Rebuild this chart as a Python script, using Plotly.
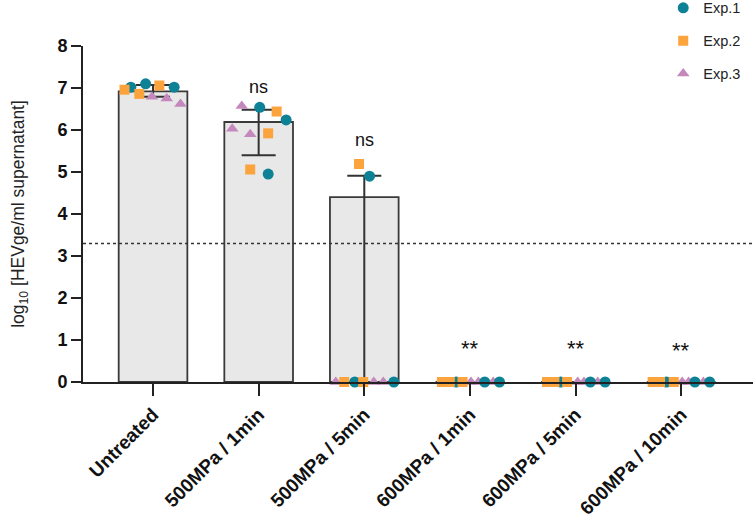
import plotly.graph_objects as go

groups = ["Untreated", "500MPa / 1min", "500MPa / 5min",
          "600MPa / 1min", "600MPa / 5min", "600MPa / 10min"]
means = [6.92, 6.19, 4.40, 0, 0, 0]
err_up = [0.15, 0.29, 0.51, 0, 0, 0]
err_down = [0.13, 0.79, 4.40, 0, 0, 0]
lod = 3.3

# per-experiment replicate values (3 per group)
exp1_vals = [[7.02, 7.10, 7.02], [6.54, 6.24, 4.95], [4.90, 0, 0],
             [0, 0, 0], [0, 0, 0], [0, 0, 0]]
exp2_vals = [[6.96, 6.86, 7.06], [6.44, 5.92, 5.06], [5.19, 0, 0],
             [0, 0, 0], [0, 0, 0], [0, 0, 0]]
exp3_vals = [[6.79, 6.75, 6.62], [6.57, 6.03, 5.90], [0, 0, 0],
             [0, 0, 0], [0, 0, 0], [0, 0, 0]]
# horizontal scatter jitter within each category
exp1_jit = [[-0.21, -0.07, 0.20], [0.01, 0.26, 0.09], [0.05, -0.09, 0.28],
            [-0.13, 0.14, 0.28], [-0.14, 0.14, 0.28], [-0.14, 0.13, 0.27]]
exp2_jit = [[-0.27, -0.13, 0.06], [0.17, 0.09, -0.08], [-0.05, -0.19, -0.01],
            [-0.265, -0.19, -0.07], [-0.27, -0.20, -0.08], [-0.27, -0.20, -0.07]]
exp3_jit = [[-0.01, 0.13, 0.26], [-0.16, -0.25, -0.08], [-0.27, 0.09, 0.18],
            [0.01, 0.08, 0.22], [0.02, 0.08, 0.21], [0.01, 0.07, 0.21]]
sig_labels = ["", "ns", "ns", "**", "**", "**"]
sig_y = [0, 7.03, 5.76, 0.80, 0.80, 0.75]

TEAL = "#0d8296"
ORANGE = "#fba33c"
MAUVE = "#c488bd"
DARK = "#333333"
FONT = "Arial, Liberation Sans, sans-serif"

idx = list(range(len(groups)))

fig = go.Figure()
fig.add_trace(go.Bar(
    x=idx, y=means, width=0.65,
    marker=dict(color="#e8e8e8", line=dict(color="#3a3a3a", width=1.8)),
    error_y=dict(type="data", symmetric=False, array=err_up, arrayminus=err_down,
                 color=DARK, thickness=2, width=17),
    showlegend=False, hoverinfo="skip", cliponaxis=False,
))


def flat(vals, jit):
    xs, ys = [], []
    for i, (vv, jj) in enumerate(zip(vals, jit)):
        for v, j in zip(vv, jj):
            xs.append(i + j)
            ys.append(v)
    return xs, ys


series = [
    ("Exp.3", exp3_vals, exp3_jit, "triangle-up", MAUVE, 3, 11),
    ("Exp.1", exp1_vals, exp1_jit, "circle", TEAL, 1, 11),
    ("Exp.2", exp2_vals, exp2_jit, "square", ORANGE, 2, 10),
]
for name, vals, jit, sym, col, rank, size in series:
    xs, ys = flat(vals, jit)
    fig.add_trace(go.Scatter(
        x=xs, y=ys, mode="markers", name=name, legendrank=rank,
        legendgroup=name,
        marker=dict(symbol=sym, color=col, size=size, line=dict(width=0)),
        cliponaxis=False,
    ))

fig.add_shape(type="line", xref="paper", yref="y", x0=0, x1=1, y0=lod, y1=lod,
              line=dict(color=DARK, width=1.5, dash="dot"))

for i, (lab, yy) in enumerate(zip(sig_labels, sig_y)):
    if lab:
        fig.add_annotation(x=i, y=yy, text=lab, showarrow=False,
                           font=dict(size=22 if lab == "**" else 18,
                                     color="#111", family=FONT))

fig.update_layout(
    width=753, height=521,
    margin=dict(l=83, r=0, t=46, b=139, autoexpand=False),
    plot_bgcolor="white", paper_bgcolor="white",
    font=dict(family=FONT, color="#111"),
    bargap=0.35,
    legend=dict(x=0.866, y=1.161, xanchor="left", yanchor="top",
                font=dict(size=14.5, color="#222", family=FONT),
                tracegroupgap=11, bgcolor="rgba(0,0,0,0)"),
    xaxis=dict(
        range=[-0.663, 5.68], tickmode="array", tickvals=idx, ticktext=groups,
        tickangle=-45, ticks="outside", ticklen=12, tickwidth=2, tickcolor="#222",
        showline=True, linecolor="#222", linewidth=2, showgrid=False,
        zeroline=False, automargin=False,
        tickfont=dict(size=19, family=FONT, color="#111", weight="bold"),
    ),
    yaxis=dict(
        range=[0, 8], dtick=1, ticks="outside", ticklen=10, tickwidth=2,
        tickcolor="#222", showline=True, linecolor="#222", linewidth=2,
        showgrid=False, zeroline=False, automargin=False,
        tickfont=dict(size=18, family=FONT, color="#111", weight="bold"),
        title=dict(text="log<sub>10</sub> [HEVge/ml supernatant]",
                   font=dict(size=17.5, family=FONT, color="#222"), standoff=28),
    ),
)

fig.write_html("out.html")
